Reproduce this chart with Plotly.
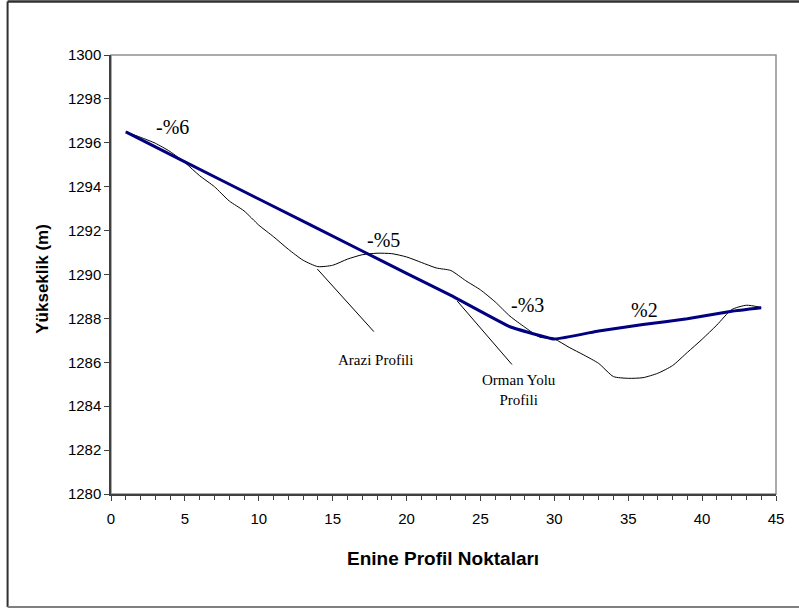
import plotly.graph_objects as go

# Arazi profili (ground profile), read at each profile point
arazi_x = list(range(1, 45))
arazi_y = [1296.5, 1296.25, 1295.98, 1295.6, 1295.1, 1294.5, 1294.0, 1293.35, 1292.9, 1292.25,
           1291.72, 1291.15, 1290.65, 1290.36, 1290.42, 1290.7, 1290.9, 1290.97, 1290.95, 1290.8,
           1290.55, 1290.3, 1290.18, 1289.72, 1289.3, 1288.75, 1288.1, 1287.6, 1287.15, 1287.06,
           1286.68, 1286.33, 1285.95, 1285.35, 1285.27, 1285.3, 1285.5, 1285.85, 1286.45, 1287.05,
           1287.7, 1288.4, 1288.6, 1288.5]

# Orman yolu profili (forest road profile)
yol_x = [1, 5, 10, 17, 20, 23, 27, 30, 33, 36, 39, 42, 44]
yol_y = [1296.5, 1295.13, 1293.44, 1291.07, 1290.05, 1289.05, 1287.62, 1287.06, 1287.43,
         1287.72, 1287.98, 1288.33, 1288.49]

x_ticks = [0, 5, 10, 15, 20, 25, 30, 35, 40, 45]
y_ticks = [1280, 1282, 1284, 1286, 1288, 1290, 1292, 1294, 1296, 1298, 1300]

fig = go.Figure()
fig.add_trace(go.Scatter(x=arazi_x, y=arazi_y, mode="lines",
                         line=dict(color="black", width=1, shape="spline", smoothing=0.6),
                         name="Arazi Profili", hoverinfo="skip"))
fig.add_trace(go.Scatter(x=yol_x, y=yol_y, mode="lines",
                         line=dict(color="#000080", width=3, shape="spline", smoothing=0.3),
                         name="Orman Yolu Profili", hoverinfo="skip"))

serif = "Liberation Serif"
sans = "Liberation Sans"
ann = []
for txt, ax_, ay_ in [("-%6", 4.16, 1296.72), ("-%5", 18.43, 1291.57),
                      ("-%3", 28.17, 1288.61), ("%2", 36.08, 1288.38)]:
    ann.append(dict(x=ax_, y=ay_, xref="x", yref="y", text=txt, showarrow=False,
                    font=dict(family=serif, size=20, color="black")))
ann.append(dict(x=17.88, y=1286.1, xref="x", yref="y", text="Arazi Profili", showarrow=False,
                font=dict(family=serif, size=15, color="black")))
ann.append(dict(x=27.6, y=1284.74, xref="x", yref="y", text="Orman Yolu<br>Profili",
                showarrow=False, font=dict(family=serif, size=15, color="black")))
# pointer lines
ann.append(dict(x=13.96, y=1290.25, ax=17.88, ay=1287.33, xref="x", yref="y", axref="x", ayref="y",
                text="", showarrow=True, arrowhead=0, arrowwidth=1, arrowcolor="black"))
ann.append(dict(x=23.43, y=1288.79, ax=27.22, ay=1285.83, xref="x", yref="y", axref="x", ayref="y",
                text="", showarrow=True, arrowhead=0, arrowwidth=1, arrowcolor="black"))
# axis titles
ann.append(dict(x=0.4997, y=-0.1465, xref="paper", yref="paper", xanchor="center", yanchor="middle",
                text="<b>Enine Profil Noktaları</b>",
                showarrow=False, font=dict(family=sans, size=19, color="black")))
ann.append(dict(x=-0.1025, y=0.49, xref="paper", yref="paper", xanchor="center", yanchor="middle",
                text="<b>Yükseklik (m)</b>",
                textangle=-90, showarrow=False, font=dict(family=sans, size=17, color="black")))

axis_font = dict(family=sans, size=15, color="black")
fig.update_layout(
    width=799, height=608,
    margin=dict(l=111, r=23, t=55, b=114),
    paper_bgcolor="white", plot_bgcolor="white",
    showlegend=False,
    annotations=ann,
    xaxis=dict(range=[0, 45], tickvals=x_ticks, showgrid=False, zeroline=False,
               showline=True, linecolor="#404040", linewidth=1.5,
               ticks="outside", ticklen=5, tickcolor="#404040",
               minor=dict(dtick=1, ticks="outside", ticklen=4, tickcolor="#404040", showgrid=False),
               tickfont=axis_font, ticklabelstandoff=5),
    yaxis=dict(range=[1280, 1300], tickvals=y_ticks, showgrid=False, zeroline=False,
               showline=True, linecolor="#404040", linewidth=1.5,
               ticks="outside", ticklen=5, tickcolor="#404040",
               tickfont=axis_font),
    shapes=[
        dict(type="rect", xref="paper", yref="paper", x0=0, x1=1, y0=0, y1=1,
             line=dict(color="#909090", width=1.5), layer="below"),
        # outer chart frame: left and top dark, bottom gray
        dict(type="line", xref="paper", yref="paper", x0=-0.1555, x1=-0.1555, y0=-0.2574, y1=1.1219,
             line=dict(color="#303030", width=2), layer="below"),
        dict(type="line", xref="paper", yref="paper", x0=-0.1555, x1=1.06, y0=1.1219, y1=1.1219,
             line=dict(color="#303030", width=2.5), layer="below"),
        dict(type="line", xref="paper", yref="paper", x0=-0.1555, x1=1.06, y0=-0.2574, y1=-0.2574,
             line=dict(color="#808080", width=2), layer="below"),
    ],
)

fig.write_html("out.html", config={"displayModeBar": False},
               post_script="document.body.style.margin='0px';")
